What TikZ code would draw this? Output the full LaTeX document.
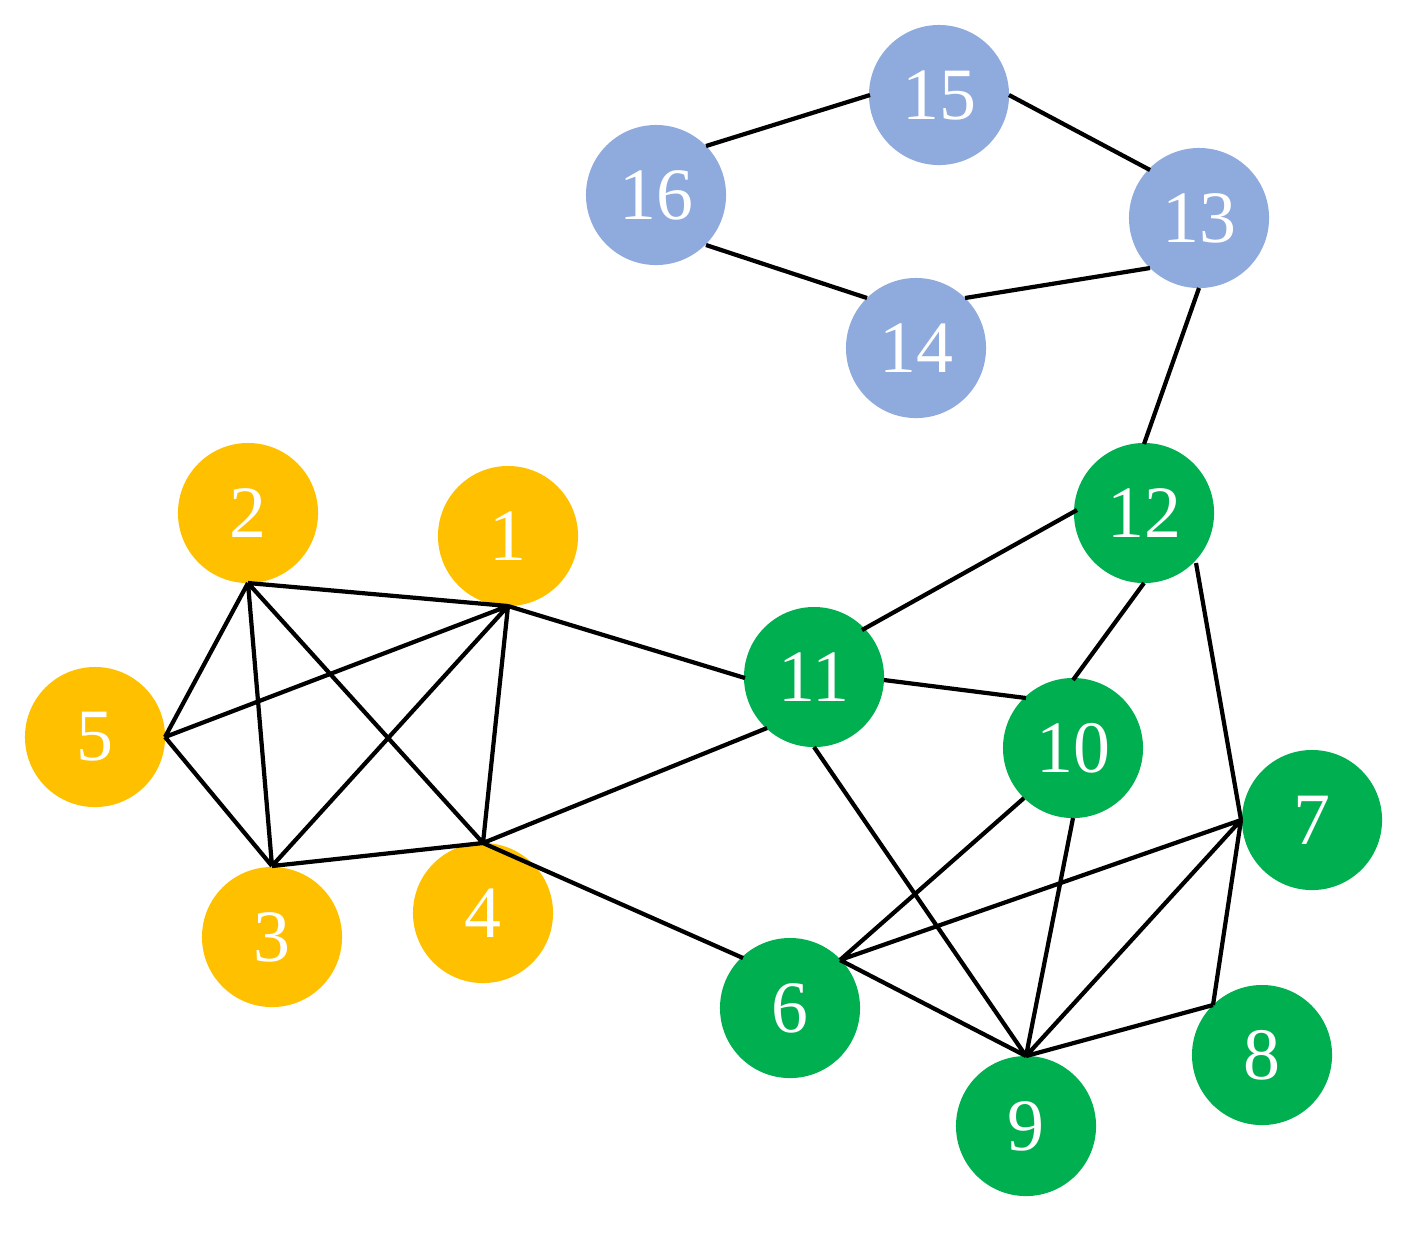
\documentclass[tikz,border=0pt]{standalone}
\usepackage{fontspec}
\setmainfont{Liberation Serif}
\begin{document}
\begin{tikzpicture}[x=0.01cm,y=-0.01cm,
  v/.style={circle,minimum size=1.4cm,inner sep=0pt,text=white,font=\fontsize{21}{21}\selectfont},
  Y/.style={v,fill={rgb,255:red,255;green,192;blue,0}},
  G/.style={v,fill={rgb,255:red,0;green,176;blue,80}},
  B/.style={v,fill={rgb,255:red,143;green,170;blue,220}},
  e/.style={line width=1.2pt,black}]
\useasboundingbox (0,0) rectangle (1404,1238);
\node[Y] (n1) at (508,536) {1};
\node[Y] (n2) at (248,513) {2};
\node[Y] (n3) at (272,937) {3};
\node[Y] (n4) at (483,913) {4};
\node[Y] (n5) at (95,737) {5};
\node[G] (n6) at (790,1008) {6};
\node[G] (n7) at (1312,820) {7};
\node[G] (n8) at (1262,1055) {8};
\node[G] (n9) at (1026,1126) {9};
\node[G] (n10) at (1073,748) {10};
\node[G] (n11) at (814,677) {11};
\node[G] (n12) at (1144,513) {12};
\node[B] (n13) at (1199,218) {13};
\node[B] (n14) at (916,348) {14};
\node[B] (n15) at (939,95) {15};
\node[B] (n16) at (656,195) {16};
\coordinate (a2) at (248,583);
\coordinate (a1) at (508,606);
\coordinate (a5) at (165,737);
\coordinate (a3) at (272,866);
\coordinate (a4) at (483,843);
\coordinate (b11l) at (745,678);
\coordinate (b11ll) at (767,728);
\coordinate (b11ur) at (862,630);
\coordinate (b11r) at (884,680);
\coordinate (b11b) at (814,747);
\coordinate (b12l) at (1077,510);
\coordinate (b12t) at (1144,444);
\coordinate (b12b) at (1144,583);
\coordinate (b12r) at (1196,563);
\coordinate (b13b) at (1199,288);
\coordinate (b13l) at (1150,170);
\coordinate (b13ll) at (1150,268);
\coordinate (b10l) at (1026,698);
\coordinate (b10t) at (1073,680);
\coordinate (b10bl) at (1024,798);
\coordinate (b10b) at (1073,818);
\coordinate (a7) at (1241,820);
\coordinate (a8) at (1213,1005);
\coordinate (a9) at (1026,1056);
\coordinate (a6) at (840,960);
\coordinate (b6l) at (743,958);
\coordinate (b16r) at (706,146);
\coordinate (b16b) at (706,245);
\coordinate (b15l) at (870,95);
\coordinate (b15r) at (1009,95);
\coordinate (b14l) at (867,298);
\coordinate (b14r) at (965,298);
\draw[e] (a2)--(a1) (a2)--(a5) (a2)--(a3) (a2)--(a4) (a1)--(a5) (a1)--(a3) (a1)--(a4)
 (a5)--(a3) (a3)--(a4) (a1)--(b11l) (a4)--(b11ll) (a4)--(b6l)
 (b11ur)--(b12l) (b11r)--(b10l) (b11b)--(a9) (b12t)--(b13b) (b12b)--(b10t) (b12r)--(a7)
 (b10bl)--(a6) (b10b)--(a9) (a6)--(a7) (a6)--(a9) (a9)--(a7) (a9)--(a8) (a7)--(a8)
 (b16r)--(b15l) (b15r)--(b13l) (b16b)--(b14l) (b14r)--(b13ll);
\end{tikzpicture}
\end{document}
